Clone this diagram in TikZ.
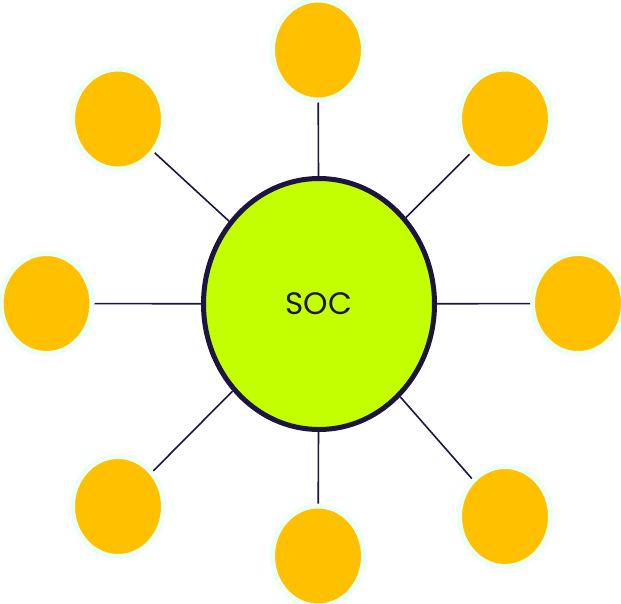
\documentclass[tikz,border=0pt]{standalone}
\usepackage{fontspec}
\setmainfont{Poppins}
\usetikzlibrary{shapes.geometric}
\definecolor{navy}{HTML}{1B1540}
\definecolor{lime}{HTML}{C4FF00}
\definecolor{amber}{HTML}{FFC000}
\definecolor{mint}{HTML}{EEFFF6}
\tikzset{
  hub/.style={ellipse, draw=navy, line width=5pt, fill=lime, minimum width=231pt, minimum height=251pt, inner sep=0pt, text=navy, font=\fontsize{31}{36}\selectfont},
  leaf/.style={ellipse, draw=mint, line width=5pt, fill=amber, minimum width=91pt, minimum height=100pt, inner sep=0pt},
  link/.style={draw=navy, line width=1.6pt}
}
\begin{document}
\begin{tikzpicture}[x=1pt,y=-1pt]
\useasboundingbox (0,0) rectangle (621,603);
\node[hub] (c) at (319,304) {SOC};
\node[leaf] (n) at (318,50) {};
\node[leaf] (ne) at (505,119) {};
\node[leaf] (e) at (578,303.5) {};
\node[leaf] (se) at (505,516.5) {};
\node[leaf] (s) at (318,556) {};
\node[leaf] (sw) at (118,506.5) {};
\node[leaf] (w) at (46.5,303.5) {};
\node[leaf] (nw) at (118,119) {};
\foreach \t in {n,ne,e,se,s,sw,w,nw} \draw[link] (\t) -- (c);
\end{tikzpicture}
\end{document}
